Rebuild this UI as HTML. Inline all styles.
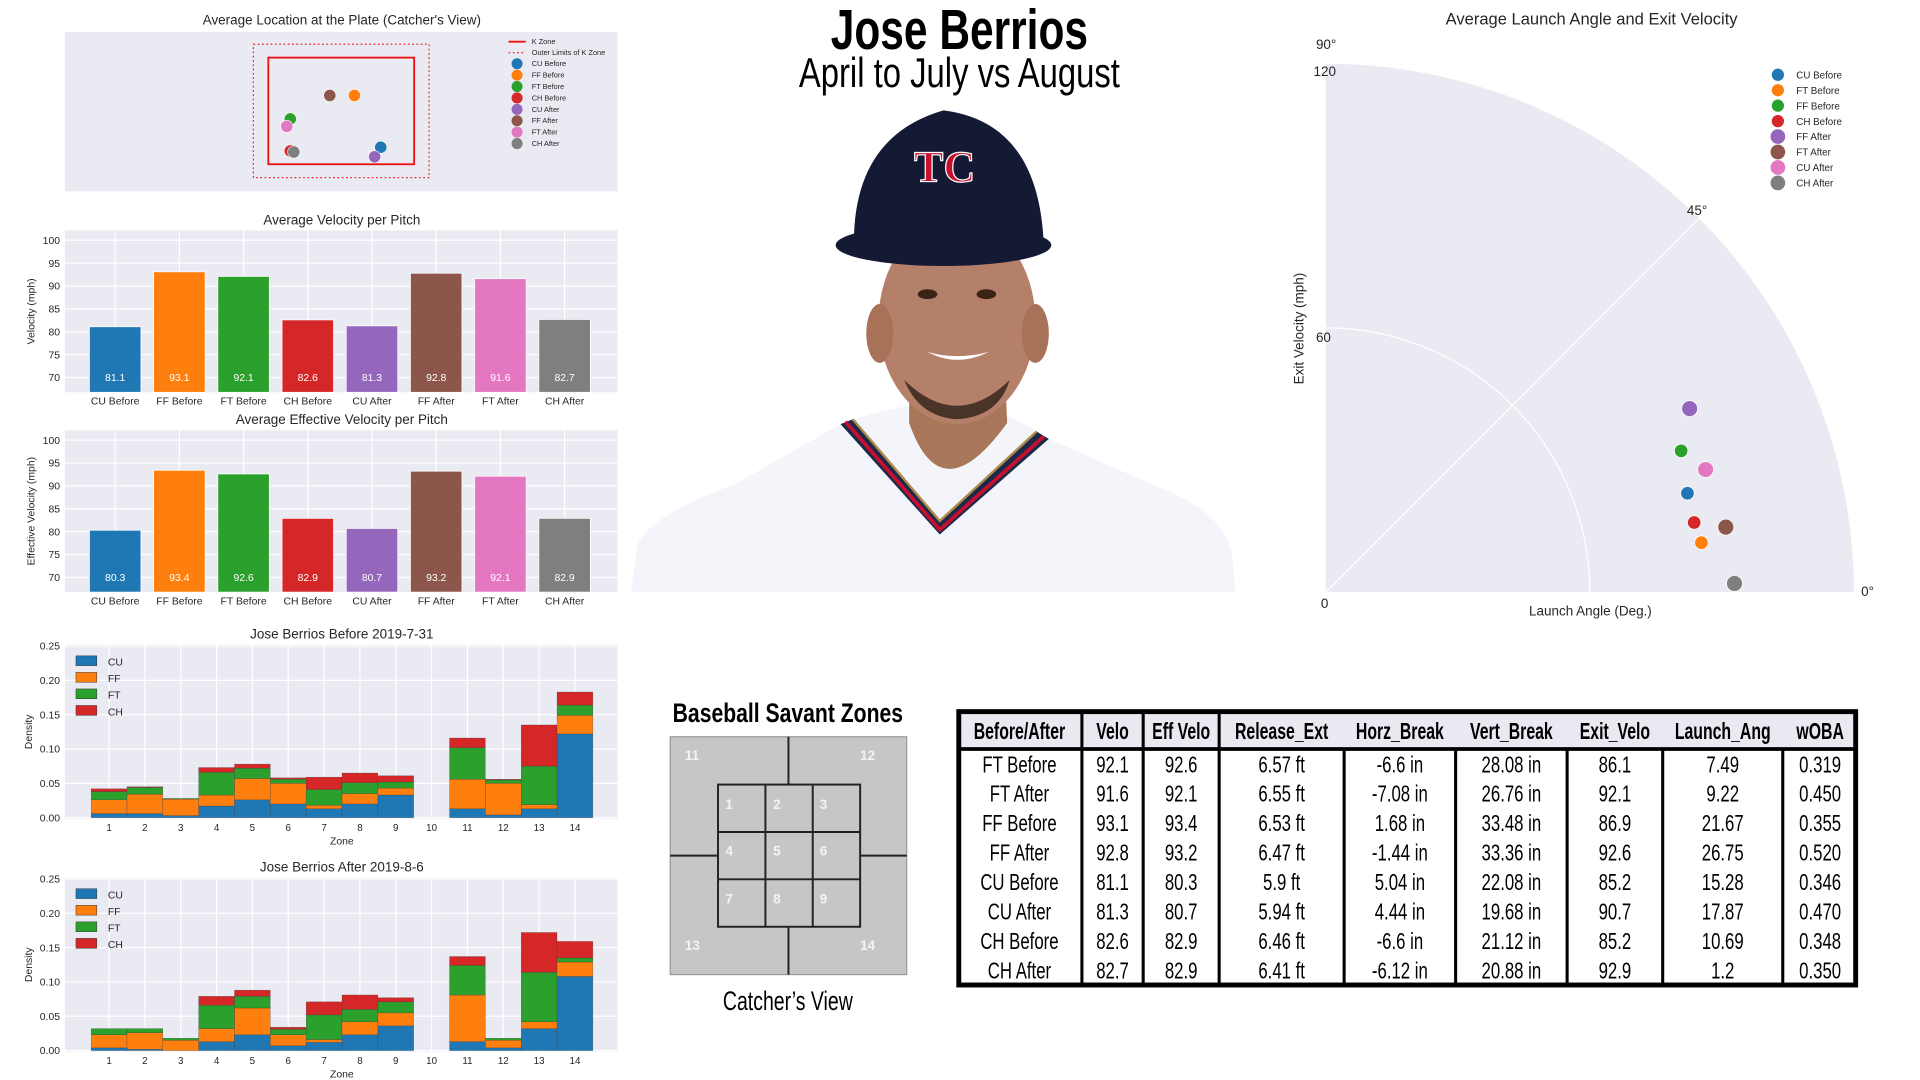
<!DOCTYPE html>
<html><head><meta charset="utf-8">
<style>
html,body{margin:0;padding:0;background:#fff;width:1920px;height:1080px;overflow:hidden}
svg{display:block}
.t{font-family:"Liberation Sans",Arial,sans-serif;fill:#262626}
.c{font-family:"Liberation Sans Narrow","Liberation Sans",sans-serif;font-stretch:condensed;fill:#000}
</style></head>
<body>
<svg id="main" width="1920" height="1080" viewBox="0 0 1567 881" preserveAspectRatio="none" xmlns="http://www.w3.org/2000/svg">
<rect x="0" y="0" width="1567" height="881" fill="#fff"/>
<text class="c" x="783" y="40" text-anchor="middle" font-size="46" font-weight="bold" textLength="210" lengthAdjust="spacingAndGlyphs">Jose Berrios</text>
<text class="c" x="783" y="71" text-anchor="middle" font-size="34" textLength="262" lengthAdjust="spacingAndGlyphs">April to July vs August</text>
<g>
  <path d="M515,483 L520,445 Q530,420 600,395 L686,346 Q730,330 760,330 L800,332 Q830,340 856,358 L940,395 Q1002,418 1006,455 L1008,483 Z" fill="#f4f5fa"/>
  <path d="M686,346 L767,436 L856,358 L846,352 L767,425 L696,342 Z" fill="#1b2a4a"/>
  <path d="M690,344 L767,432 L852,356" stroke="#c8102e" stroke-width="3" fill="none"/>
  <path d="M696,342 L767,425 L846,352" stroke="#b08a4a" stroke-width="2" fill="none"/>
  <path d="M742,300 L742,345 Q768,420 822,345 L820,300 Z" fill="#a87658"/>
  <ellipse cx="781" cy="262" rx="64" ry="84" fill="#b5806a"/>
  <ellipse cx="718" cy="272" rx="11" ry="24" fill="#a87258"/>
  <ellipse cx="845" cy="272" rx="11" ry="24" fill="#a87258"/>
  <path d="M738,310 Q781,352 824,310 Q815,340 781,342 Q750,340 738,310 Z" fill="#4a3428"/>
  <path d="M757,287 Q781,300 807,287 Q781,294 757,287 Z" fill="#fff"/>
  <ellipse cx="757" cy="240" rx="8" ry="4" fill="#3a2418"/>
  <ellipse cx="805" cy="240" rx="8" ry="4" fill="#3a2418"/>
  <path d="M697,205 Q694,112 770,90 Q850,100 852,205 Z" fill="#141a33"/>
  <ellipse cx="770" cy="200" rx="88" ry="17" fill="#141a33"/>
  <text x="771" y="148" text-anchor="middle" font-family="Liberation Serif,serif" font-weight="bold" font-size="36" fill="#c8102e" stroke="#fff" stroke-width="1">TC</text>
</g>
<g id="charts"></g>
</svg>
<script>
var pitchLabels = ["CU Before","FF Before","FT Before","CH Before","CU After","FF After","FT After","CH After"];
var pitchColors = ["#1f77b4","#ff7f0e","#2ca02c","#d62728","#9467bd","#8c564b","#e377c2","#7f7f7f"];
var velocity = [81.1,93.1,92.1,82.6,81.3,92.8,91.6,82.7];
var effVelocity = [80.3,93.4,92.6,82.9,80.7,93.2,92.1,82.9];
var velTicks = [70,75,80,85,90,95,100];

var locLabels = ["CU Before","FF Before","FT Before","CH Before","CU After","FF After","FT After","CH After"];
var locX = [0.45,0.15,-0.58,-0.58,0.38,-0.13,-0.62,-0.54];
var locZ = [1.82,2.79,2.35,1.75,1.64,2.79,2.21,1.73];

var zones = [1,2,3,4,5,6,7,8,9,10,11,12,13,14];
var histTicks = [0,0.05,0.10,0.15,0.20,0.25];
var histTypes = ["CU","FF","FT","CH"];
var histColors = ["#1f77b4","#ff7f0e","#2ca02c","#d62728"];
var beforeCU = [.006,.006,.003,.017,.026,.020,.013,.020,.033,0,.013,.004,.013,.122];
var beforeFF = [.020,.028,.024,.016,.031,.030,.005,.015,.010,0,.043,.046,.006,.027];
var beforeFT = [.012,.010,.001,.033,.015,.006,.023,.016,.009,0,.046,.005,.056,.015];
var beforeCH = [.004,.001,0,.007,.006,.002,.018,.014,.009,0,.014,.001,.060,.019];
var afterCU = [.004,.002,0,.013,.023,.007,.012,.023,.036,0,.013,.004,.032,.108];
var afterFF = [.019,.024,.015,.019,.039,.016,.004,.019,.019,0,.068,.011,.010,.021];
var afterFT = [.009,.006,.003,.034,.017,.008,.036,.018,.016,0,.043,.003,.072,.006];
var afterCH = [0,0,0,.013,.009,.003,.019,.021,.006,0,.013,0,.058,.024];

var polarLabels = ["CU Before","FT Before","FF Before","CH Before","FF After","FT After","CU After","CH After"];
var polarColors = ["#1f77b4","#ff7f0e","#2ca02c","#d62728","#9467bd","#8c564b","#e377c2","#7f7f7f"];
var exitVelo = [85.2,86.1,86.9,85.2,92.6,92.1,90.7,92.9];
var launchAng = [15.28,7.49,21.67,10.69,26.75,9.22,17.87,1.2];

var tableHeaders = ["Before/After","Velo","Eff Velo","Release_Ext","Horz_Break","Vert_Break","Exit_Velo","Launch_Ang","wOBA"];
var tableRows = [
 ["FT Before","92.1","92.6","6.57 ft","-6.6 in","28.08 in","86.1","7.49","0.319"],
 ["FT After","91.6","92.1","6.55 ft","-7.08 in","26.76 in","92.1","9.22","0.450"],
 ["FF Before","93.1","93.4","6.53 ft","1.68 in","33.48 in","86.9","21.67","0.355"],
 ["FF After","92.8","93.2","6.47 ft","-1.44 in","33.36 in","92.6","26.75","0.520"],
 ["CU Before","81.1","80.3","5.9 ft","5.04 in","22.08 in","85.2","15.28","0.346"],
 ["CU After","81.3","80.7","5.94 ft","4.44 in","19.68 in","90.7","17.87","0.470"],
 ["CH Before","82.6","82.9","6.46 ft","-6.6 in","21.12 in","85.2","10.69","0.348"],
 ["CH After","82.7","82.9","6.41 ft","-6.12 in","20.88 in","92.9","1.2","0.350"]
];

var NS = "http://www.w3.org/2000/svg";
var root = document.getElementById("charts");
function mk(tag, attrs, parent, text){
  var e = document.createElementNS(NS, tag);
  for (var k in attrs) e.setAttribute(k, attrs[k]);
  if (text !== undefined) e.textContent = text;
  (parent || root).appendChild(e);
  return e;
}
var BG = "#eaeaf2";

(function(){
  var g = mk("g", {});
  
  
  var t = mk("text", {x:279, y:20, "text-anchor":"middle", "font-size":11, "class":"t"}, g, "Average Location at the Plate (Catcher's View)");
  
  
  mk("rect", {x:53, y:26, width:451, height:130, fill:BG}, g);
  function px(v){ return 278.5 + v * 71.7; }
  function pz(v){ return 134 - (v - 1.5) * 43.5; }
  var outer = mk("rect", {x:px(-1), y:pz(3.75), width:px(1)-px(-1), height:pz(1.25)-pz(3.75), fill:"none", stroke:"#f03030", "stroke-width":1, "stroke-dasharray":"1.5,2"}, g);
  
  
  var kz = mk("rect", {x:px(-0.83), y:pz(3.5), width:px(0.83)-px(-0.83), height:pz(1.5)-pz(3.5), fill:"none", stroke:"#ee1111", "stroke-width":1.5}, g);
  
  
  for (var i=0;i<locX.length;i++){
    var c = mk("circle", {cx:px(locX[i]), cy:pz(locZ[i]), r:5, fill:pitchColors[i], stroke:"#fff", "stroke-width":0.5}, g);
    
    
  }
  var lg = mk("g", {}, g);
  
  
  mk("line", {x1:415, y1:34, x2:429, y2:34, stroke:"#ee1111", "stroke-width":1.5}, lg);
  mk("text", {x:434, y:36, "font-size":6, "class":"t"}, lg, "K Zone");
  mk("line", {x1:415, y1:43, x2:429, y2:43, stroke:"#f03030", "stroke-width":1, "stroke-dasharray":"1.5,2"}, lg);
  mk("text", {x:434, y:45, "font-size":6, "class":"t"}, lg, "Outer Limits of K Zone");
  for (var j=0;j<locLabels.length;j++){
    var y = 52 + j*9.3;
    mk("circle", {cx:422, cy:y, r:4.5, fill:pitchColors[j]}, lg);
    mk("text", {x:434, y:y+2, "font-size":6, "class":"t"}, lg, locLabels[j]);
  }
})();

function barChart(name, title, top, vals, ytitle){
  var g = mk("g", {});
  
  
  var L=53, R=504, B=top+132;
  var tt = mk("text", {x:279, y:top-5, "text-anchor":"middle", "font-size":11, "class":"t"}, g, title);
  
  
  mk("rect", {x:L, y:top, width:R-L, height:B-top, fill:BG}, g);
  function yv(v){ return (B - 12) - (v - 70) * (112/30); }
  function xc(i){ return 94 + i * 52.4; }
  velTicks.forEach(function(v){
    mk("line", {x1:L, x2:R, y1:yv(v), y2:yv(v), stroke:"#fff", "stroke-width":1}, g);
    var tl = mk("text", {x:L-4, y:yv(v)+3, "text-anchor":"end", "font-size":8.5, "class":"t"}, g, String(v));
    
    
  });
  for (var i=0;i<vals.length;i++){
    mk("line", {x1:xc(i), x2:xc(i), y1:top, y2:B, stroke:"#fff", "stroke-width":1}, g);
  }
  for (var i=0;i<vals.length;i++){
    var b = mk("rect", {x:xc(i)-21, y:yv(vals[i]), width:42, height:B-yv(vals[i]), fill:pitchColors[i], stroke:"#fff", "stroke-width":0.6}, g);
    
    
    var vl = mk("text", {x:xc(i), y:yv(70)+3, "text-anchor":"middle", "font-size":8.5, fill:"#fff", "font-family":"Liberation Sans, sans-serif"}, g, vals[i].toFixed(1));
    
    
    var xl = mk("text", {x:xc(i), y:B+10, "text-anchor":"middle", "font-size":8.5, "class":"t"}, g, pitchLabels[i]);
    
    
  }
  var yt = mk("text", {x:0, y:0, "text-anchor":"middle", "font-size":8.5, "class":"t", transform:"translate(28,"+((top+B)/2)+") rotate(-90)"}, g, ytitle);
  
  
}
barChart("velocity-chart", "Average Velocity per Pitch", 188, velocity, "Velocity (mph)");
barChart("effective-velocity-chart", "Average Effective Velocity per Pitch", 351, effVelocity, "Effective Velocity (mph)");

function hist(name, title, top, series){
  var g = mk("g", {});
  
  
  var L=53, R=504, B=top+142;
  var tt = mk("text", {x:279, y:top-5, "text-anchor":"middle", "font-size":11, "class":"t"}, g, title);
  
  
  mk("rect", {x:L, y:top, width:R-L, height:B-top, fill:BG}, g);
  function yv(v){ return (B-1) - v * (140/0.25); }
  function xc(z){ return 89 + (z-1) * 29.25; }
  histTicks.forEach(function(v){
    mk("line", {x1:L, x2:R, y1:yv(v), y2:yv(v), stroke:"#fff", "stroke-width":1}, g);
    var tl = mk("text", {x:L-4, y:yv(v)+3, "text-anchor":"end", "font-size":8.5, "class":"t"}, g, v.toFixed(2));
    
    
  });
  zones.forEach(function(z){
    mk("line", {x1:xc(z), x2:xc(z), y1:top, y2:B, stroke:"#fff", "stroke-width":1}, g);
    var zl = mk("text", {x:xc(z), y:B+10, "text-anchor":"middle", "font-size":8, "class":"t"}, g, String(z));
    
    
  });
  zones.forEach(function(z, zi){
    var cum = 0;
    for (var s=0;s<series.length;s++){
      var v = series[s][zi];
      if (v <= 0) continue;
      var r = mk("rect", {x:xc(z)-14.6, y:yv(cum+v), width:29.2, height:yv(cum)-yv(cum+v), fill:histColors[s], stroke:"#333", "stroke-width":0.35, "stroke-opacity":0.6}, g);
      
      
      cum += v;
    }
  });
  var xt = mk("text", {x:279, y:B+21, "text-anchor":"middle", "font-size":8.5, "class":"t"}, g, "Zone");
  
  
  var yt = mk("text", {x:0, y:0, "text-anchor":"middle", "font-size":8.5, "class":"t", transform:"translate(26,"+((top+B)/2)+") rotate(-90)"}, g, "Density");
  
  
  var lg = mk("g", {}, g);
  
  
  for (var s=0;s<histTypes.length;s++){
    var y = top + 9 + s*13.5;
    mk("rect", {x:62, y:y, width:17, height:8, fill:histColors[s], stroke:"#333", "stroke-width":0.4}, lg);
    mk("text", {x:88, y:y+8, "font-size":8.5, "class":"t"}, lg, histTypes[s]);
  }
}
hist("histogram-before", "Jose Berrios Before 2019-7-31", 526, [beforeCU, beforeFF, beforeFT, beforeCH]);
hist("histogram-after", "Jose Berrios After 2019-8-6", 716, [afterCU, afterFF, afterFT, afterCH]);

(function(){
  var g = mk("g", {});
  
  
  var ox=1082, oy=483, R=431;
  function rr(v){ return v/120*R; }
  var tt = mk("text", {x:1299, y:20, "text-anchor":"middle", "font-size":13.5, "class":"t"}, g, "Average Launch Angle and Exit Velocity");
  
  
  mk("path", {d:"M"+ox+","+oy+" L"+(ox+R)+","+oy+" A"+R+","+R+" 0 0 0 "+ox+","+(oy-R)+" Z", fill:BG}, g);
  mk("path", {d:"M"+(ox+rr(60))+","+oy+" A"+rr(60)+","+rr(60)+" 0 0 0 "+ox+","+(oy-rr(60)), fill:"none", stroke:"#fff", "stroke-width":1}, g);
  mk("line", {x1:ox, y1:oy, x2:ox+R*Math.cos(Math.PI/4), y2:oy-R*Math.sin(Math.PI/4), stroke:"#fff", "stroke-width":1}, g);
  var labs = [["90°",ox-8,40],["120",ox-10,62],["60",ox-8,279],["0",ox-4,496],["0°",ox+R+6,486],["45°",ox+R*0.7071-10,oy-R*0.7071-3]];
  labs.forEach(function(l){
    var e = mk("text", {x:l[1], y:l[2], "font-size":11, "class":"t"}, g, l[0]);
    
    
  });
  var xt = mk("text", {x:1298, y:502, "text-anchor":"middle", "font-size":11, "class":"t"}, g, "Launch Angle (Deg.)");
  
  
  var yt = mk("text", {x:0, y:0, "text-anchor":"middle", "font-size":11, "class":"t", transform:"translate(1064,268) rotate(-90)"}, g, "Exit Velocity (mph)");
  
  
  for (var i=0;i<exitVelo.length;i++){
    var a = launchAng[i]*Math.PI/180;
    var big = i>=4 ? 6.5 : 5.5;
    var c = mk("circle", {cx:ox+rr(exitVelo[i])*Math.cos(a), cy:oy-rr(exitVelo[i])*Math.sin(a), r:big, fill:polarColors[i], stroke:"#fff", "stroke-width":0.6}, g);
    
    
  }
  var lg = mk("g", {}, g);
  
  
  for (var j=0;j<polarLabels.length;j++){
    var y = 61 + j*12.6;
    mk("circle", {cx:1451, cy:y, r:j>=4?6:5, fill:polarColors[j]}, lg);
    mk("text", {x:1466, y:y+3, "font-size":8, "class":"t"}, lg, polarLabels[j]);
  }
})();

(function(){
  var g = mk("g", {});
  
  
  var t = mk("text", {x:643, y:589, "text-anchor":"middle", "font-size":22, "font-weight":"bold", "class":"c", textLength:188, lengthAdjust:"spacingAndGlyphs"}, g, "Baseball Savant Zones");
  
  
  mk("rect", {x:547, y:601, width:193, height:194, fill:"#c6c6c6", stroke:"#999", "stroke-width":1}, g);
  var ln = {stroke:"#222", "stroke-width":1.6};
  var l1 = [[643.5,601,643.5,640],[643.5,756,643.5,795],[547,698,586,698],[702,698,740,698]];
  l1.forEach(function(a){ mk("line", Object.assign({x1:a[0],y1:a[1],x2:a[2],y2:a[3]}, ln), g); });
  mk("rect", {x:586, y:640, width:116, height:116, fill:"none", stroke:"#222", "stroke-width":1.6}, g);
  [624.7,663.3].forEach(function(x){ mk("line", Object.assign({x1:x,y1:640,x2:x,y2:756}, ln), g); });
  [678.7,717.3].forEach(function(y){ mk("line", Object.assign({x1:586,y1:y,x2:702,y2:y}, ln), g); });
  var nums = [["1",592,660],["2",631,660],["3",669,660],["4",592,698],["5",631,698],["6",669,698],["7",592,737],["8",631,737],["9",669,737],["11",559,620],["12",702,620],["13",559,775],["14",702,775]];
  nums.forEach(function(n){
    var e = mk("text", {x:n[1], y:n[2], "font-size":11, "font-weight":"bold", fill:"#f4f4f4", "font-family":"Liberation Sans Narrow, Liberation Sans, sans-serif"}, g, n[0]);
    
    
  });
  var cv = mk("text", {x:643, y:824, "text-anchor":"middle", "font-size":22, "class":"c", textLength:106, lengthAdjust:"spacingAndGlyphs"}, g, "Catcher\u2019s View");
  
  
})();

(function(){
  var g = mk("g", {});
  
  
  var cols = [781,883,933,995,1097,1188,1279,1357,1455,1516];
  var top=579, hb=611, bot=805;
  mk("rect", {x:781, y:top, width:735, height:bot-top, fill:"#fff"}, g);
  mk("rect", {x:781, y:top, width:735, height:hb-top, fill:"#e9e9f2"}, g);
  var rh = (bot-2-hb)/tableRows.length;
  for (var c=1;c<cols.length-1;c++){
    var y1 = (c<=3) ? top : hb;
    mk("line", {x1:cols[c], y1:y1, x2:cols[c], y2:bot, stroke:"#000", "stroke-width":2.5}, g);
  }
  mk("line", {x1:781, y1:hb, x2:1516, y2:hb, stroke:"#000", "stroke-width":3}, g);
  mk("rect", {x:782.5, y:top+1.5, width:732, height:bot-top-3, fill:"none", stroke:"#000", "stroke-width":4}, g);
  for (var c=0;c<tableHeaders.length;c++){
    var cx = (cols[c]+cols[c+1])/2;
    var h = mk("text", {x:0, y:0, "text-anchor":"middle", "font-size":19, "font-weight":"bold", "class":"c", transform:"translate("+cx+",603) scale(0.68,1)"}, g, tableHeaders[c]);
    
    
  }
  tableRows.forEach(function(row, r){
    row.forEach(function(v, c){
      var cx = (cols[c]+cols[c+1])/2;
      var cy = hb + rh*(r+1) - 5;
      var t = mk("text", {x:0, y:0, "text-anchor":"middle", "font-size":19, "class":"c", transform:"translate("+cx+","+cy+") scale(0.72,1)"}, g, v);
      
      
    });
  });
})();
</script>
</body></html>
